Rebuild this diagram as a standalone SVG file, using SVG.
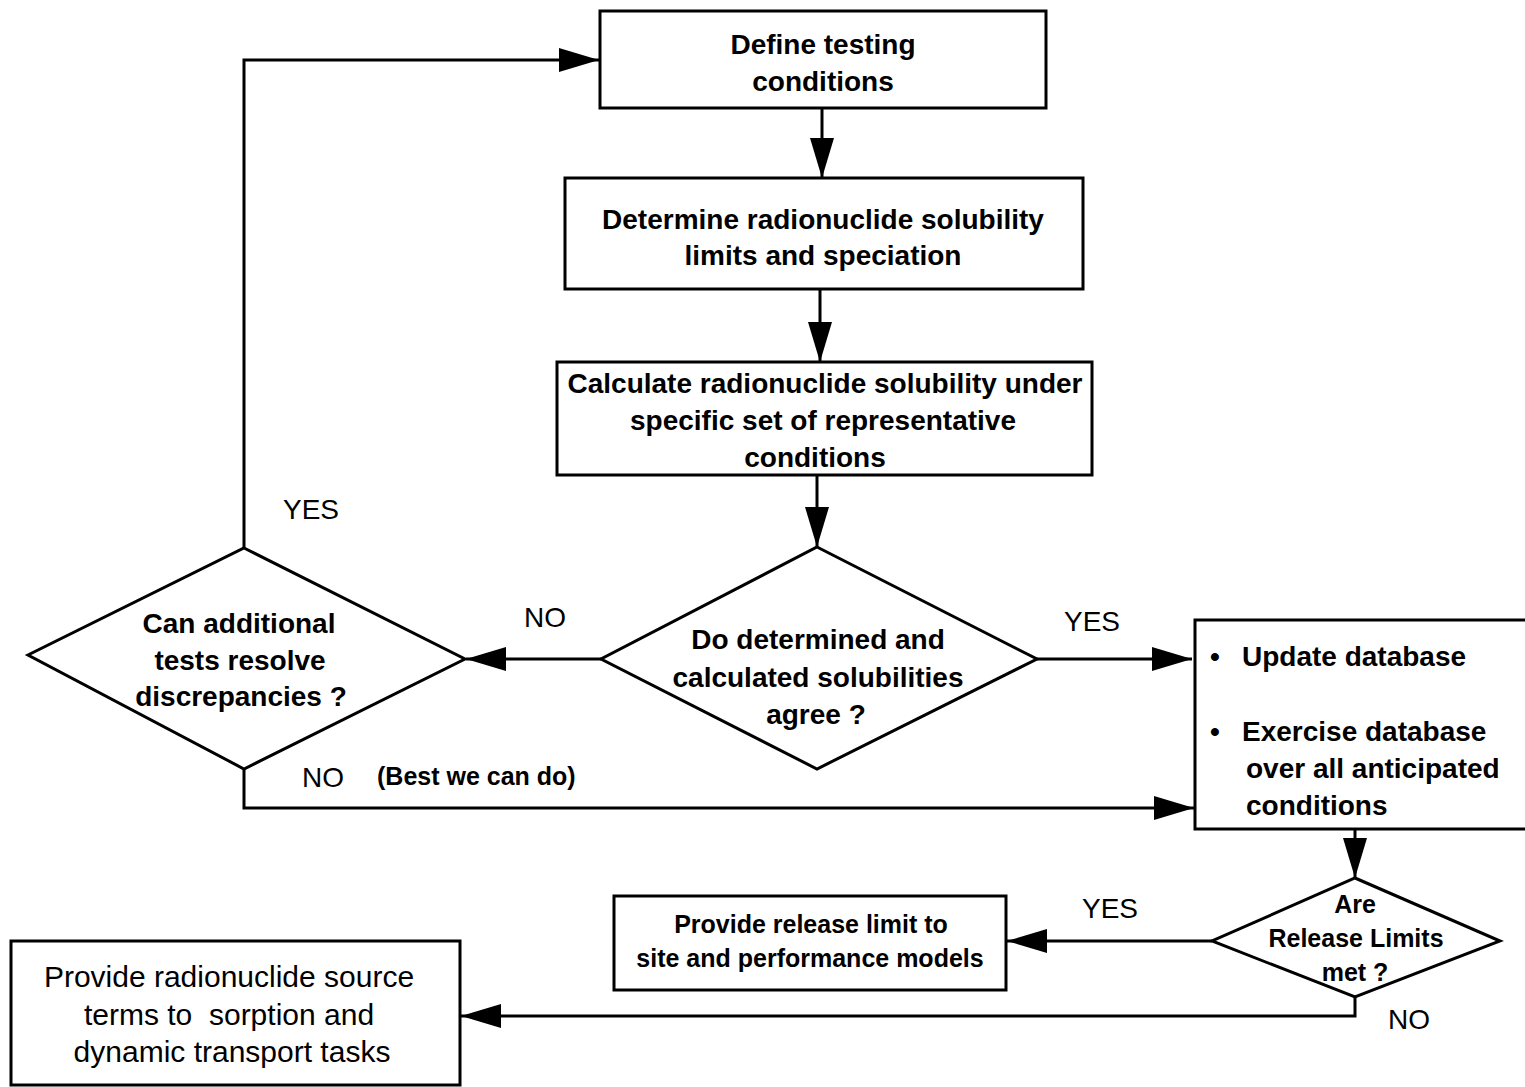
<svg xmlns="http://www.w3.org/2000/svg" width="1525" height="1087" viewBox="0 0 1525 1087">
<style>
.node{fill:#fff;stroke:#000;stroke-width:3}
.t{font-family:"Liberation Sans",Arial,sans-serif;font-size:28px;font-weight:bold;fill:#000;text-anchor:middle}
.s{font-size:25px}
.l{font-family:"Liberation Sans",Arial,sans-serif;font-size:28px;font-weight:bold;fill:#000}
.edge{fill:none;stroke:#000;stroke-width:3}
</style>
<defs>
<marker id="ah" viewBox="0 0 40 24" refX="40" refY="12" markerWidth="40" markerHeight="24" markerUnits="userSpaceOnUse" orient="auto">
<path d="M0,0 L40,12 L0,24 Z" fill="#000"/>
</marker>
</defs>
<rect width="1525" height="1087" fill="#fff"/>
<g id="connectors">
<path class="edge" d="M822,108 V178" marker-end="url(#ah)"/>
<path class="edge" d="M820,289 V362" marker-end="url(#ah)"/>
<path class="edge" d="M817,475 V547" marker-end="url(#ah)"/>
<path class="edge" d="M601,659 H466" marker-end="url(#ah)"/>
<path class="edge" d="M1037,659 H1192" marker-end="url(#ah)"/>
<path class="edge" d="M244,548 V60 H599" marker-end="url(#ah)"/>
<path class="edge" d="M244,769 V808 H1194" marker-end="url(#ah)"/>
<path class="edge" d="M1355,829 V878" marker-end="url(#ah)"/>
<path class="edge" d="M1212,941 H1007" marker-end="url(#ah)"/>
<path class="edge" d="M1355,997 V1016 H461" marker-end="url(#ah)"/>
</g>
<g id="n1">
<rect class="node" x="600" y="11" width="446" height="97"/>
<text class="t" x="823" y="54">Define testing</text>
<text class="t" x="823" y="91">conditions</text>
</g>
<g id="n2">
<rect class="node" x="565" y="178" width="518" height="111"/>
<text class="t" x="823" y="229">Determine radionuclide solubility</text>
<text class="t" x="823" y="265">limits and speciation</text>
</g>
<g id="n3">
<rect class="node" x="557" y="362" width="535" height="113"/>
<text class="t" x="825" y="393">Calculate radionuclide solubility under</text>
<text class="t" x="823" y="430">specific set of representative</text>
<text class="t" x="815" y="467">conditions</text>
</g>
<g id="d1">
<polygon class="node" points="817,547 1037,659 817,769 601,659"/>
<text class="t" x="818" y="649">Do determined and</text>
<text class="t" x="818" y="687">calculated solubilities</text>
<text class="t" x="816" y="724">agree ?</text>
</g>
<g id="d2">
<polygon class="node" points="244,548 465,659 244,769 28,655"/>
<text class="t" x="239" y="633">Can additional</text>
<text class="t" x="240" y="670">tests resolve</text>
<text class="t" x="241" y="706">discrepancies ?</text>
</g>
<g id="n4">
<rect class="node" x="1195" y="620" width="345" height="209"/>
<text class="l" x="1210" y="666">•</text>
<text class="l" x="1242" y="666">Update database</text>
<text class="l" x="1210" y="741">•</text>
<text class="l" x="1242" y="741">Exercise database</text>
<text class="l" x="1246" y="778">over all anticipated</text>
<text class="l" x="1246" y="815">conditions</text>
</g>
<g id="d3">
<polygon class="node" points="1355,878 1500,941 1355,997 1212,941"/>
<text class="t s" x="1355" y="913">Are</text>
<text class="t s" x="1356" y="947">Release Limits</text>
<text class="t s" x="1355" y="981">met ?</text>
</g>
<g id="n5">
<rect class="node" x="614" y="896" width="392" height="94"/>
<text class="t s" x="811" y="933">Provide release limit to</text>
<text class="t s" x="810" y="967">site and performance models</text>
</g>
<g id="n6">
<rect class="node" x="11" y="941" width="449" height="144"/>
<text class="t" x="229" y="987" style="font-weight:normal;font-size:30px">Provide radionuclide source</text>
<text class="t" x="229" y="1025" style="font-weight:normal;font-size:30px">terms to&#160; sorption and</text>
<text class="t" x="232" y="1062" style="font-weight:normal;font-size:30px">dynamic transport tasks</text>
</g>
<g id="labels">
<text class="l" x="283" y="519" style="font-weight:normal">YES</text>
<text class="l" x="524" y="627" style="font-weight:normal">NO</text>
<text class="l" x="1064" y="631" style="font-weight:normal">YES</text>
<text class="l" x="302" y="787" style="font-weight:normal">NO</text>
<text class="l" x="377" y="785" style="font-size:25px">(Best we can do)</text>
<text class="l" x="1082" y="918" style="font-weight:normal">YES</text>
<text class="l" x="1388" y="1029" style="font-weight:normal">NO</text>
</g>
</svg>
